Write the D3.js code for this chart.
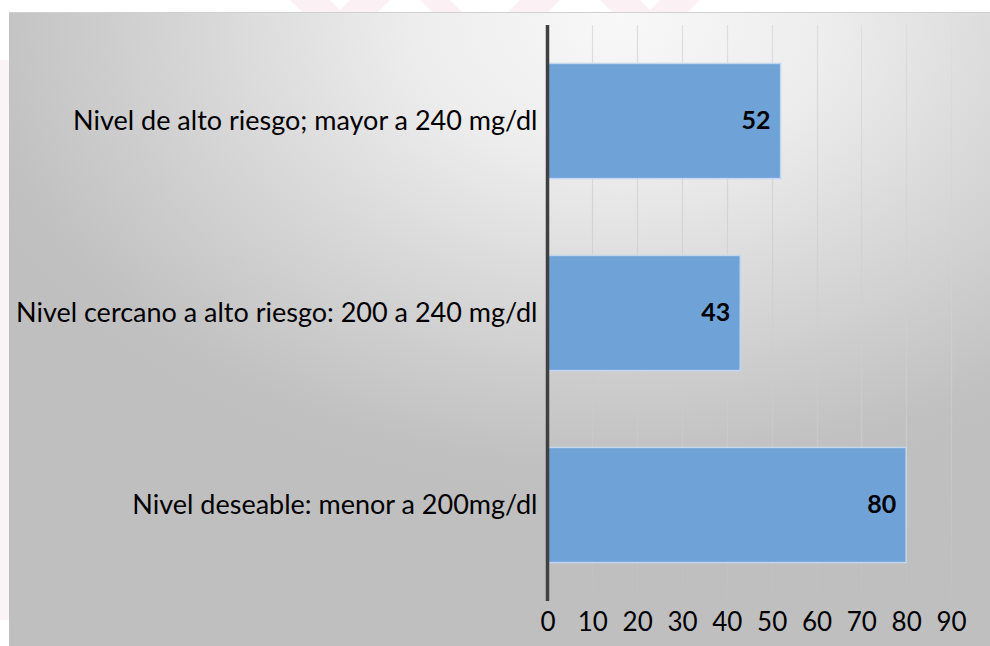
<!DOCTYPE html>
<html>
<head>
<meta charset="utf-8">
<script src="https://cdn.jsdelivr.net/npm/d3@7"></script>
<style>
  html, body { margin: 0; padding: 0; background: #fff; }
  svg { display: block; }
</style>
</head>
<body>
<svg id="chart" width="990" height="646"></svg>
<script>
// Cholesterol level categories and counts
const categories = [
  "Nivel de alto riesgo; mayor a 240 mg/dl",
  "Nivel cercano a alto riesgo: 200 a 240 mg/dl",
  "Nivel deseable: menor a 200mg/dl"
];
const values = [52, 43, 80];
const xTicks = [0, 10, 20, 30, 40, 50, 60, 70, 80, 90];

const W = 990, H = 646;
const svg = d3.select("#chart");
const defs = svg.append("defs");

// soft radial background
const bg = defs.append("radialGradient")
  .attr("id", "bgGrad")
  .attr("gradientUnits", "userSpaceOnUse")
  .attr("cx", 0).attr("cy", 0).attr("r", 480)
  .attr("gradientTransform", "translate(620,20) scale(1.45,1)");
[[0, "#f8f8f8"], [0.3, "#ededed"], [0.6, "#d7d7d7"], [0.92, "#c1c1c1"], [1, "#bfbfbf"]]
  .forEach(([o, c]) => bg.append("stop").attr("offset", o).attr("stop-color", c));

// gridlines fade into the background towards the bottom
const gg = defs.append("linearGradient")
  .attr("id", "gridGrad")
  .attr("gradientUnits", "userSpaceOnUse")
  .attr("x1", 0).attr("y1", 25).attr("x2", 0).attr("y2", 601);
[[0, "#dedede"], [0.5, "#cfcfcf"], [1, "#c0c0c0"]]
  .forEach(([o, c]) => gg.append("stop").attr("offset", o).attr("stop-color", c));

// faint watermark strokes behind the panel
const wm = svg.append("g").attr("fill", "#fbf1f5");
[[290, 330], [350, 390], [420, 450], [520, 560], [600, 640], [660, 700]].forEach(([a, b], i) => {
  const dir = i % 2 ? -1 : 1;
  wm.append("path").attr("d",
    `M${a},0 L${b},0 L${b + dir * 12},12 L${a + dir * 12},12 Z`);
});
svg.append("rect").attr("x", 0).attr("y", 60).attr("width", 9).attr("height", 560)
  .attr("fill", "#fbf4f7");

// chart panel
svg.append("rect")
  .attr("x", 9).attr("y", 12).attr("width", W - 9).attr("height", H - 12)
  .attr("fill", "url(#bgGrad)");
svg.append("line")
  .attr("x1", 9).attr("x2", W).attr("y1", 12.5).attr("y2", 12.5)
  .attr("stroke", "#d0d0d0").attr("stroke-width", 1);

const x = d3.scaleLinear().domain([0, 90]).range([547.5, 951]);
const y = d3.scaleBand().domain(categories).range([25, 601])
  .paddingInner(0.4).paddingOuter(0.2);

// vertical gridlines
svg.append("g")
  .selectAll("line")
  .data(xTicks.slice(1))
  .join("line")
  .attr("x1", d => Math.round(x(d)) + 0.5)
  .attr("x2", d => Math.round(x(d)) + 0.5)
  .attr("y1", 25).attr("y2", 601)
  .attr("stroke", "url(#gridGrad)").attr("stroke-width", 1.2);

// bars
svg.append("g")
  .selectAll("rect")
  .data(categories)
  .join("rect")
  .attr("x", x(0))
  .attr("y", d => y(d))
  .attr("width", (d, i) => x(values[i]) - x(0))
  .attr("height", y.bandwidth())
  .attr("fill", "#6fa3d7")
  .attr("stroke", "#c3d8ee")
  .attr("stroke-width", 1.5);

// value labels inside the bar ends
svg.append("g")
  .selectAll("text")
  .data(categories)
  .join("text")
  .attr("x", (d, i) => x(values[i]) - 10)
  .attr("y", d => y(d) + y.bandwidth() / 2 + 8)
  .attr("text-anchor", "end")
  .attr("font-family", "Lato, 'Open Sans', sans-serif")
  .attr("font-weight", "bold")
  .attr("font-size", 25)
  .attr("fill", "#000")
  .text((d, i) => values[i]);

// category axis
const yAxis = svg.append("g")
  .attr("transform", `translate(${x(0)},0)`)
  .call(d3.axisLeft(y).tickSize(0).tickPadding(10));
yAxis.select(".domain").remove();
yAxis.selectAll("text")
  .attr("font-family", "Lato, 'Open Sans', sans-serif")
  .attr("font-size", 27)
  .attr("fill", "#000")
  .attr("dy", "0.32em");
svg.append("line")
  .attr("x1", x(0)).attr("x2", x(0))
  .attr("y1", 25).attr("y2", 601)
  .attr("stroke", "#404040").attr("stroke-width", 3.5);

// value axis labels
const xAxis = svg.append("g")
  .attr("transform", "translate(0,601)")
  .call(d3.axisBottom(x).tickValues(xTicks).tickSize(0).tickPadding(12).tickFormat(d3.format("d")));
xAxis.select(".domain").remove();
xAxis.selectAll("text")
  .attr("font-family", "Lato, 'Open Sans', sans-serif")
  .attr("font-size", 26)
  .attr("fill", "#000")
  .attr("dy", "0.71em");
</script>
</body>
</html>
